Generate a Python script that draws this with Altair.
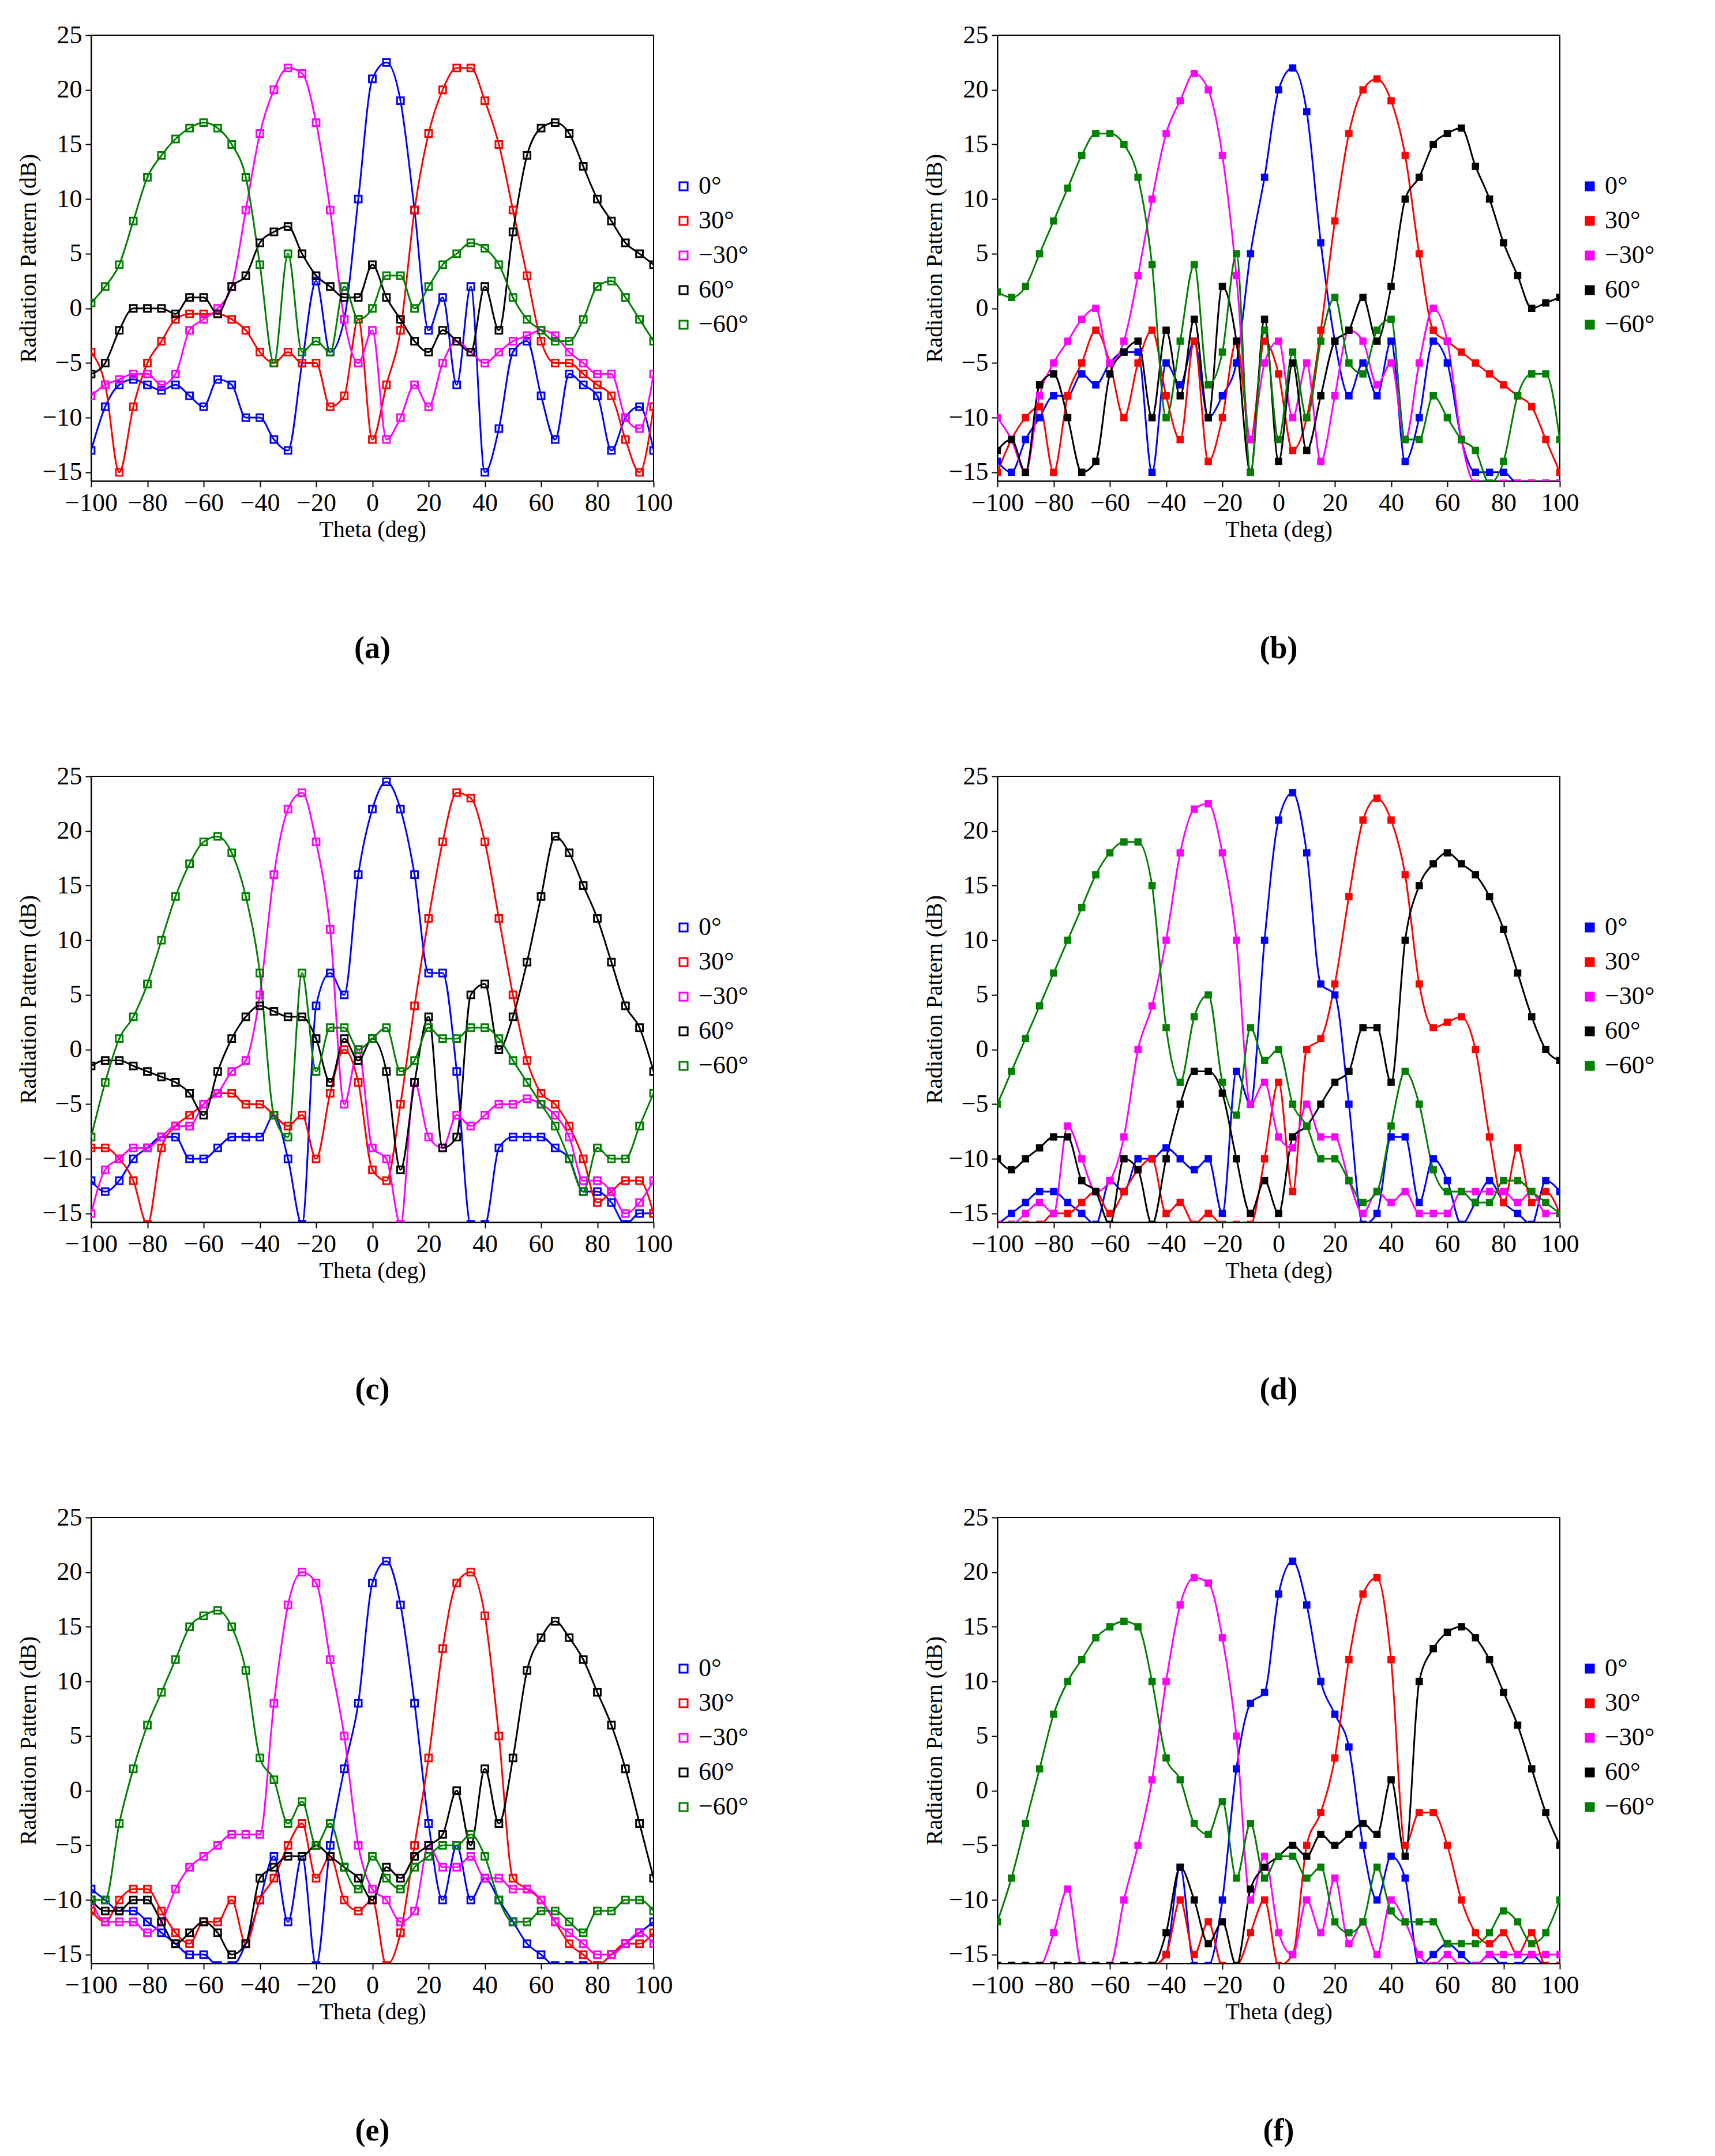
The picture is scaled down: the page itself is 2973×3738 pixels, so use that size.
import altair as alt
import pandas as pd

theta = list(range(-100, 101, 5))
labels = ['0°', '30°', '\u221230°', '60°', '\u221260°']
colors = ['#0000FF', '#FF0000', '#FF00FF', '#000000', '#008000']

# (a)
a_0 = [-13,-9,-7,-6.5,-7,-7.5,-7,-8,-9,-6.5,-7,-10,-10,-12,-13,-5,2.5,-4,-1,10,21,22.5,19,9,-2,1,-7,2,-15,-11,-4,-3,-8,-12,-6,-7,-8,-13,-10,-9,-13]
a_30 = [-4,-7,-15,-9,-5,-3,-1,-0.5,-0.5,-0.5,-1,-2,-4,-5,-4,-5,-5,-9,-8,-1,-12,-7,-2,9,16,20,22,22,19,15,9,3,-3,-5,-5,-6,-7,-8,-12,-15,-9]
a_m30 = [-8,-7,-6.5,-6,-6,-7,-6,-2,-1,0,2,9,16,20,22,21.5,17,9,-1,-5,-2,-12,-10,-7,-9,-5,-3,-4,-5,-4,-3,-2.5,-2,-2.5,-4,-5,-6,-6,-10,-11,-6]
a_60 = [-6,-5,-2,0,0,0,-0.5,1,1,-0.5,2,3,6,7,7.5,5,3,2,1,1,4,1,-1,-3,-4,-2,-3,-4,2,-2,7,14,16.5,17,16,13,10,8,6,5,4]
a_m60 = [0.5,2,4,8,12,14,15.5,16.5,17,16.5,15,12,4,-5,5,-4,-3,-4,2,-1,0,3,3,0,2,4,5,6,5.5,4,1,-1,-2,-3,-3,-1,2,2.5,1,-1,-3]

# (b)
b_0 = [-14,-15,-12,-10,-8,-8,-6,-7,-5,-4,-4,-15,-5,-7,-3,-10,-8,-5,5,12,20,22,18,6,-3,-8,-5,-8,-3,-14,-10,-3,-5,-12,-15,-15,-15,-16,-16,-16,-16]
b_30 = [-15,-12,-10,-9,-15,-8,-5,-2,-5,-10,-5,-2,-8,-12,-3,-14,-10,-3,-12,-3,-6,-13,-10,-2,8,16,20,21,19,14,5,-2,-3,-4,-5,-6,-7,-8,-9,-12,-15]
b_m30 = [-10,-12,-15,-8,-5,-3,-1,0,-5,-3,3,10,16,19,21.5,20,14,3,-12,-5,-3,-10,-5,-14,-8,-2,-3,-7,-5,-12,-5,0,-3,-12,-16,-16,-16,-16,-16,-16,-16]
b_60 = [-13,-12,-15,-7,-6,-10,-15,-14,-6,-4,-3,-10,-2,-8,-1,-10,2,-3,-15,-1,-14,-5,-13,-8,-3,-2,1,-3,2,10,12,15,16,16.5,13,10,6,3,0,0.5,1]
b_m60 = [1.5,1,2,5,8,11,14,16,16,15,12,4,-10,-3,4,-7,-4,5,-15,-2,-12,-4,-10,-3,1,-5,-6,-2,-1,-12,-12,-8,-10,-12,-13,-16,-14,-8,-6,-6,-12]

# (c)
c_0 = [-12,-13,-12,-10,-9,-8,-8,-10,-10,-9,-8,-8,-8,-6,-10,-16,4,7,5,16,22,24.5,22,16,7,7,-2,-16,-16,-9,-8,-8,-8,-9,-10,-13,-13,-14,-16,-15,-15]
c_30 = [-9,-9,-10,-12,-16,-9,-7,-6,-5,-4,-4,-5,-5,-6,-7,-6,-10,-4,0,-3,-11,-12,-5,4,12,19,23.5,23,19,12,5,-1,-4,-5,-7,-10,-14,-13,-12,-12,-15]
c_m30 = [-15,-11,-10,-9,-9,-8,-7,-7,-5,-4,-2,-1,5,16,22,23.5,19,11,-5,0,-9,-10,-16,-3,-8,-9,-6,-7,-6,-5,-5,-4.5,-5,-6,-8,-12,-12,-13,-15,-14,-12]
c_60 = [-1.5,-1,-1,-1.5,-2,-2.5,-3,-4,-6,-2,1,3,4,3.5,3,3,1,-3,1,-1,1,-2,-11,-3,3,-9,-8,5,6,0,3,8,14,19.5,18,15,12,8,4,2,-2]
c_m60 = [-8,-3,1,3,6,10,14,17,19,19.5,18,14,7,-6,-8,7,-2,2,2,0,1,2,-2,-1,2,1,1,2,2,1,-1,-3,-5,-7,-10,-13,-9,-10,-10,-7,-4]

# (d)
d_0 = [-16,-15,-14,-13,-13,-14,-15,-16,-12,-13,-10,-10,-9,-10,-11,-10,-15,-2,-5,10,21,23.5,18,6,5,-5,-16,-15,-8,-8,-14,-10,-12,-16,-14,-12,-14,-15,-16,-12,-13]
d_30 = [-16,-16,-16,-16,-15,-15,-14,-13,-15,-13,-11,-10,-15,-14,-16,-15,-16,-16,-16,-10,-3,-13,0,1,6,14,21,23,21,16,6,2,2.5,3,0,-8,-14,-9,-14,-13,-15]
d_m30 = [-16,-16,-15,-14,-15,-7,-10,-13,-12,-8,0,4,10,18,22,22.5,18,10,-5,-3,-8,-9,-5,-8,-8,-12,-15,-13,-14,-13,-15,-15,-15,-13,-13,-13,-13,-14,-13,-15,-15]
d_60 = [-10,-11,-10,-9,-8,-8,-12,-13,-16,-10,-11,-16,-10,-5,-2,-2,-4,-10,-15,-12,-15,-8,-7,-5,-3,-2,2,2,-3,10,15,17,18,17,16,14,11,7,3,0,-1]
d_m60 = [-5,-2,1,4,7,10,13,16,18,19,19,15,2,-3,3,5,-3,-6,2,-1,0,-5,-7,-10,-10,-12,-14,-13,-7,-2,-5,-11,-13,-13,-14,-14,-12,-12,-13,-14,-15]

# (e)
e_0 = [-9,-10,-11,-11,-12,-13,-14,-15,-15,-16,-16,-14,-10,-6,-12,-6,-16,-5,2,8,19,21,17,8,-3,-10,-5,-10,-8,-10,-12,-14,-15,-16,-16,-16,-16,-15,-14,-13,-12]
e_30 = [-11,-12,-10,-9,-9,-11,-13,-14,-12,-12,-10,-14,-10,-8,-5,-3,-8,-6,-10,-11,-10,-16,-13,-5,3,13,19,20,16,5,-8,-9,-10,-12,-14,-15,-16,-15,-14,-14,-13]
e_m30 = [-10,-12,-12,-12,-13,-12,-9,-7,-6,-5,-4,-4,-4,8,17,20,19,12,5,-5,-9,-10,-12,-11,-5,-7,-7,-6,-8,-8,-9,-9,-10,-12,-13,-14,-15,-15,-14,-13,-14]
e_60 = [-10,-11,-11,-10,-10,-12,-14,-13,-12,-13,-15,-14,-8,-7,-6,-6,-5,-6,-7,-8,-10,-7,-8,-6,-5,-4,0,-5,2,-3,3,11,14,15.5,14,12,9,6,2,-3,-8]
e_m60 = [-10,-10,-3,2,6,9,12,15,16,16.5,15,11,3,1,-3,-1,-5,-3,-7,-9,-6,-8,-9,-7,-6,-5,-5,-4,-6,-10,-12,-12,-11,-11,-12,-13,-11,-11,-10,-10,-11]

# (f)
f_0 = [-16,-16,-16,-16,-16,-16,-16,-16,-16,-16,-16,-16,-15,-7,-16,-16,-10,2,8,9,18,21,17,10,7,4,-5,-10,-6,-8,-16,-15,-14,-15,-16,-15,-16,-16,-15,-16,-16]
f_30 = [-16,-16,-16,-16,-16,-16,-16,-16,-16,-16,-16,-16,-15,-10,-15,-12,-16,-16,-13,-10,-16,-15,-5,-2,3,12,18,19.5,12,-5,-2,-2,-5,-10,-13,-14,-13,-15,-13,-16,-16]
f_m30 = [-16,-16,-16,-16,-13,-9,-16,-16,-16,-10,-5,1,10,17,19.5,19,14,5,-10,-6,-13,-15,-10,-13,-8,-14,-12,-15,-10,-12,-15,-16,-15,-16,-16,-15,-15,-15,-15,-15,-15]
f_60 = [-16,-16,-16,-16,-16,-16,-16,-16,-16,-16,-16,-16,-13,-7,-10,-14,-12,-16,-9,-7,-6,-5,-6,-4,-5,-4,-3,-4,1,-6,10,13,14.5,15,14,12,9,6,2,-2,-5]
f_m60 = [-12,-8,-3,2,7,10,12,14,15,15.5,15,10,3,1,-3,-4,-1,-8,-3,-8,-6,-6,-8,-7,-12,-13,-12,-7,-11,-12,-12,-12,-14,-14,-14,-13,-11,-12,-14,-13,-10]

panels = [
    ('(a)', [a_0, a_30, a_m30, a_60, a_m60], False),
    ('(b)', [b_0, b_30, b_m30, b_60, b_m60], True),
    ('(c)', [c_0, c_30, c_m30, c_60, c_m60], False),
    ('(d)', [d_0, d_30, d_m30, d_60, d_m60], True),
    ('(e)', [e_0, e_30, e_m30, e_60, e_m60], False),
    ('(f)', [f_0, f_30, f_m30, f_60, f_m60], True),
]

FONT = 'Liberation Serif'


def panel(caption, series, filled):
    rows = []
    for lab, vals in zip(labels, series):
        for t, v in zip(theta, vals):
            rows.append({'theta': t, 'value': v, 'beam': lab})
    d = pd.DataFrame(rows)
    return alt.Chart(d).mark_line(
        interpolate='monotone', strokeWidth=3, clip=True,
        point=alt.OverlayMarkDef(shape='square', filled=filled, size=160 if filled else 140,
                                 strokeWidth=3, clip=True)
    ).encode(
        x=alt.X('theta:Q', title='Theta (deg)',
                scale=alt.Scale(domain=[-100, 100], nice=False),
                axis=alt.Axis(values=list(range(-100, 101, 20)), grid=False, tickSize=10,
                              labelOverlap=False, labelFlush=False)),
        y=alt.Y('value:Q', title='Radiation Pattern (dB)',
                scale=alt.Scale(domain=[-15.8, 25], nice=False, zero=False),
                axis=alt.Axis(values=list(range(-15, 26, 5)), grid=False, tickSize=10,
                              labelOverlap=False, labelFlush=False)),
        color=alt.Color('beam:N', sort=labels, title=None,
                        scale=alt.Scale(domain=labels, range=colors),
                        legend=alt.Legend(orient='none', legendX=1005, legendY=240,
                                          symbolType='square', symbolFillColor='white' if not filled else None,
                                          symbolSize=200, symbolStrokeWidth=3)),
    ).properties(
        width=975, height=773,
        title=alt.TitleParams(caption, orient='bottom', anchor='middle', frame='group', offset=160,
                              fontSize=54, font=FONT, fontWeight='bold', color='black')
    )


charts = [panel(*p) for p in panels]
rows = [alt.hconcat(charts[i], charts[i + 1], spacing=300).resolve_scale(color='independent')
        for i in (0, 2, 4)]
chart = alt.vconcat(*rows, spacing=170).resolve_scale(color='independent').configure_axis(
    labelFont=FONT, titleFont=FONT, labelFontSize=44, titleFontSize=40,
    labelColor='black', titleColor='black', domainColor='black', tickColor='black',
    domainWidth=2, tickWidth=2, titleFontWeight='normal', labelPadding=6
).configure_legend(
    labelFont=FONT, labelFontSize=44, labelColor='black', rowPadding=16
).configure_view(
    stroke='black', strokeWidth=2
).properties(background='white', padding={'left': 20, 'top': 30, 'right': 20, 'bottom': 20})

chart.save('out.html', embed_options={'renderer': 'svg', 'actions': False})
